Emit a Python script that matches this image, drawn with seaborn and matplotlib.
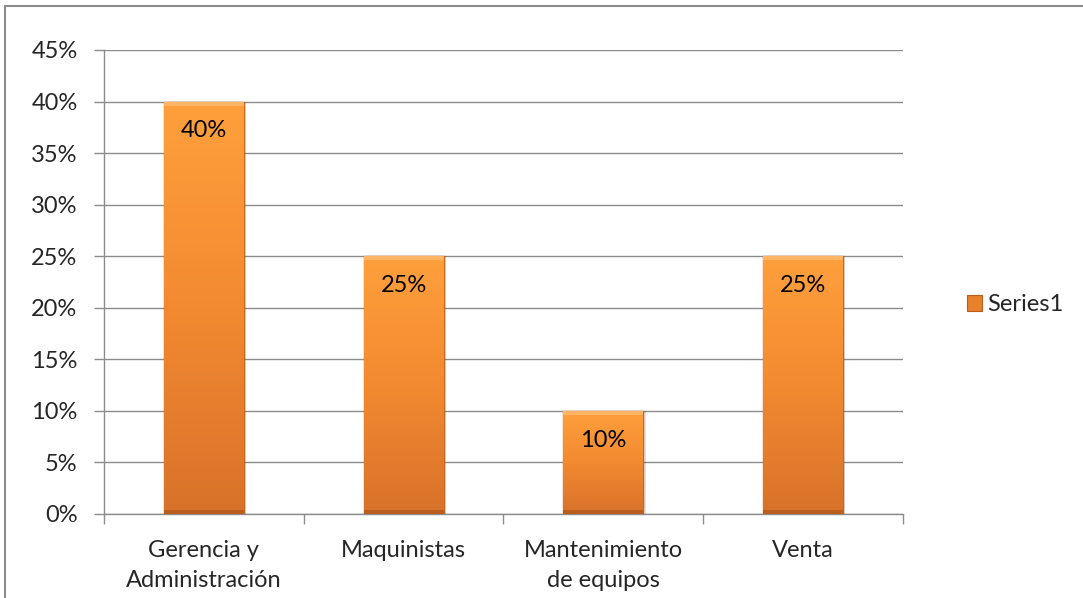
import numpy as np
import pandas as pd
import matplotlib
matplotlib.use("Agg")
import matplotlib.pyplot as plt
from matplotlib.lines import Line2D
from matplotlib.patches import Patch
from matplotlib.colors import LinearSegmentedColormap
from matplotlib.ticker import FixedLocator, PercentFormatter
import seaborn as sns

# Data
categories = ["Gerencia y\nAdministración", "Maquinistas", "Mantenimiento\nde equipos", "Venta"]
values = [0.40, 0.25, 0.10, 0.25]
series_name = "Series1"
y_ticks = [0.00, 0.05, 0.10, 0.15, 0.20, 0.25, 0.30, 0.35, 0.40, 0.45]

df = pd.DataFrame({"categoria": categories, "valor": values})

sns.set_theme(style="white")
plt.rcParams["font.family"] = ["Lato", "DejaVu Sans"]
FS = 17

fig = plt.figure(figsize=(10.83, 5.98), dpi=100)
ax = fig.add_axes([0.0960, 0.1405, 0.7378, 0.7759])

sns.barplot(data=df, x="categoria", y="valor", color="#F68A2E", width=0.4,
            ax=ax, edgecolor="#C7681F", linewidth=1.0, zorder=3)

ax.set_xlim(-0.5, len(categories) - 0.5)
ax.set_ylim(0, 0.45)

# Vertical orange gradient inside each bar
grad_cmap = LinearSegmentedColormap.from_list("naranja", ["#D8722A", "#F28A31", "#FFA03C"])
grad = np.linspace(0, 1, 256).reshape(-1, 1)
for bar in ax.patches:
    x0, y0 = bar.get_x(), bar.get_y()
    w, h = bar.get_width(), bar.get_height()
    im = ax.imshow(grad, cmap=grad_cmap, origin="lower", aspect="auto",
                   extent=[x0, x0 + w, y0, y0 + h], zorder=3.5)
    im.set_clip_path(bar)
    # soft shadow to the right of the bar
    ax.add_patch(plt.Rectangle((x0 + w, y0), 0.012, h, color="#000000",
                               alpha=0.12, lw=0, zorder=2.5))
    # bevel highlight at the top and darker rim at the bottom
    ax.add_patch(plt.Rectangle((x0, y0 + h - 0.004), w, 0.004, color="#FFB466",
                               lw=0, zorder=3.7))
    ax.add_patch(plt.Rectangle((x0, y0), w, 0.004, color="#B95E1C",
                               lw=0, zorder=3.7))

# Value labels inside the bars
for bar, v in zip(ax.patches, values):
    ax.annotate(f"{v:.0%}", xy=(bar.get_x() + bar.get_width() / 2, v),
                xytext=(0, -21), textcoords="offset points",
                ha="center", va="center", fontsize=FS, color="#000000", zorder=5)

# Gridlines and axes styling
grid_color = "#8C8C8C"
ax.yaxis.set_major_locator(FixedLocator(y_ticks))
ax.yaxis.set_major_formatter(PercentFormatter(xmax=1, decimals=0))
ax.grid(axis="y", color=grid_color, linewidth=1.0, zorder=1)
ax.set_axisbelow(True)
for side in ["top", "right"]:
    ax.spines[side].set_visible(False)
for side in ["left", "bottom"]:
    ax.spines[side].set_color(grid_color)
    ax.spines[side].set_linewidth(1.0)

ax.set_xlabel("")
ax.set_ylabel("")
ax.tick_params(axis="y", which="major", length=7, width=1, color=grid_color,
               direction="out", labelsize=FS, pad=12, left=True)
ax.tick_params(axis="x", which="major", length=0, labelsize=FS, pad=19)
ax.xaxis.set_minor_locator(FixedLocator(np.arange(-0.5, len(categories), 1.0)))
ax.tick_params(axis="x", which="minor", length=7, width=1, color=grid_color,
               direction="out", bottom=True)
for lbl in ax.get_xticklabels():
    lbl.set_linespacing(1.5)

# Legend
handle = Patch(facecolor="#E8802C", edgecolor="#B55E1C", linewidth=0.8)
fig.legend([handle], [series_name], loc="center left",
           bbox_to_anchor=(0.884, 0.49), frameon=False, fontsize=FS,
           handlelength=0.65, handleheight=0.65, handletextpad=0.2,
           borderaxespad=0)

# Chart frame (top and left edges)
fig.add_artist(Line2D([0.0046, 1.0], [0.9900, 0.9900], transform=fig.transFigure,
                      color="#8C8C8C", linewidth=1.5))
fig.add_artist(Line2D([0.0046, 0.0046], [0.0, 0.9900], transform=fig.transFigure,
                      color="#8C8C8C", linewidth=1.5))

fig.savefig("out.png", dpi=100, facecolor="white")
